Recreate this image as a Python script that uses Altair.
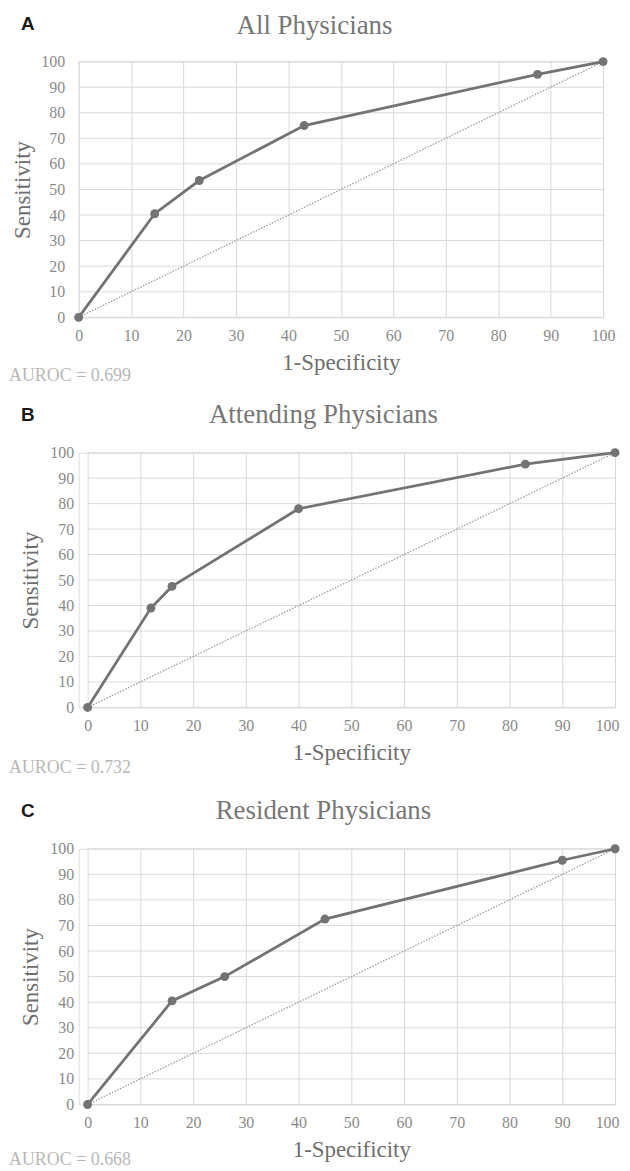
import altair as alt
import pandas as pd

titles = ["All Physicians", "Attending Physicians", "Resident Physicians"]
letters = ["A", "B", "C"]
auroc_labels = ["AUROC = 0.699", "AUROC = 0.732", "AUROC = 0.668"]
tick_values = [0, 10, 20, 30, 40, 50, 60, 70, 80, 90, 100]

fpr_all = [0, 14.5, 23, 43, 87.5, 100]
tpr_all = [0, 40.5, 53.5, 75, 95, 100]
fpr_att = [0, 12, 16, 40, 83, 100]
tpr_att = [0, 39, 47.5, 78, 95.5, 100]
fpr_res = [0, 16, 26, 45, 90, 100]
tpr_res = [0, 40.5, 50, 72.5, 95.5, 100]
diag_x = [0, 100]
diag_y = [0, 100]

SERIF = "Liberation Serif"
LINE_COLOR = "#737373"
GRID_COLOR = "#d9d9d9"
ORIGIN = 78  # common page x of every panel's view origin

# layout (page px): plot left, plot right, plot top, plot height, band top, band bottom,
# auroc baseline, y-label padding, y-title padding, title centre x, offset of the "100" label,
# title baseline (relative to plot top)
layouts = [
    (78, 605, 61, 257, 11, 392, 382, 14, 6, 315, 0, -28),
    (87, 617, 452, 256, 392, 786, 774, 5, 7.5, 324, -8, -30),
    (87, 617, 848, 257, 786, 1164, 1166, 5, 7.5, 324, -8, -30),
]


def panel(i, fpr, tpr):
    left, right, top, h, btop, bbot, abase, lpad, tpad, tcx, loff, tbase = layouts[i]
    w = right - ORIGIN
    roc = pd.DataFrame({"fpr": fpr, "tpr": tpr})
    diag = pd.DataFrame({"fpr": diag_x, "tpr": diag_y})
    grid = pd.DataFrame({"v": tick_values, "x0": [0] * len(tick_values),
                         "x1": [100] * len(tick_values)})
    xs = alt.Scale(domain=[0, 100], nice=False, range=[left - ORIGIN, w])
    ys = alt.Scale(domain=[0, 100], nice=False)
    common = dict(values=tick_values, domain=False, ticks=False, labelFont=SERIF,
                  labelFontSize=16, labelColor="#8a8a8a", labelFlush=False,
                  labelOverlap=False, titleFont=SERIF, titleFontSize=23,
                  titleColor="#6e6e6e", titleFontWeight="normal")
    xax = alt.Axis(grid=True, gridColor=GRID_COLOR, gridWidth=1, labelPadding=10,
                   labelOffset={"condition": {"test": "datum.value == 100", "value": loff},
                                "value": 0},
                   titlePadding=8, title="1-Specificity", **common)
    yax = alt.Axis(grid=False, labelPadding=lpad, titlePadding=tpad,
                   title="Sensitivity", **common)
    enc = dict(x=alt.X("fpr:Q", scale=xs, axis=xax), y=alt.Y("tpr:Q", scale=ys, axis=yax))

    g = alt.Chart(grid).mark_rule(color=GRID_COLOR, strokeWidth=1).encode(
        x=alt.X("x0:Q", scale=xs, axis=xax), x2="x1:Q",
        y=alt.Y("v:Q", scale=ys, axis=yax))
    d = alt.Chart(diag).mark_line(color="#9c9c9c", strokeWidth=1.3,
                                  strokeDash=[1.5, 1.5]).encode(**enc)
    line = alt.Chart(roc).mark_line(color=LINE_COLOR, strokeWidth=2.8).encode(**enc)
    pts = alt.Chart(roc).mark_circle(color=LINE_COLOR, size=80, opacity=1).encode(**enc)

    one = pd.DataFrame({"t": [titles[i]], "l": [letters[i]], "a": [auroc_labels[i]]})
    ttl = alt.Chart(one).mark_text(font=SERIF, fontSize=27, color="#777777",
                                   align="center", baseline="alphabetic").encode(
        text="t:N", x=alt.value(tcx - ORIGIN), y=alt.value(tbase))
    let = alt.Chart(one).mark_text(font="Liberation Sans", fontSize=19, fontWeight="bold",
                                   color="#1a1a1a", align="left", baseline="middle").encode(
        text="l:N", x=alt.value(20 - ORIGIN), y=alt.value(-38))
    au = alt.Chart(one).mark_text(font=SERIF, fontSize=18, color="#b8b8b8",
                                  align="left", baseline="alphabetic").encode(
        text="a:N", x=alt.value(8 - ORIGIN), y=alt.value(abase - top))
    spacer = alt.Chart(one).mark_rule(strokeOpacity=0, opacity=0).encode(
        x=alt.value(8 - ORIGIN), x2=alt.value(9 - ORIGIN),
        y=alt.value(btop - top), y2=alt.value(bbot - top))

    return alt.layer(g, d, line, pts, ttl, let, au, spacer).properties(width=w, height=h)


fprs = [fpr_all, fpr_att, fpr_res]
tprs = [tpr_all, tpr_att, tpr_res]
panels = [panel(i, fprs[i], tprs[i]) for i in range(3)]

chart = alt.vconcat(*panels, spacing=0).properties(
    padding={"left": 0, "top": 0, "right": 0, "bottom": 0}
).configure_view(stroke=None).configure(background="white")

chart.save("out.html", embed_options={"renderer": "svg", "actions": False})
